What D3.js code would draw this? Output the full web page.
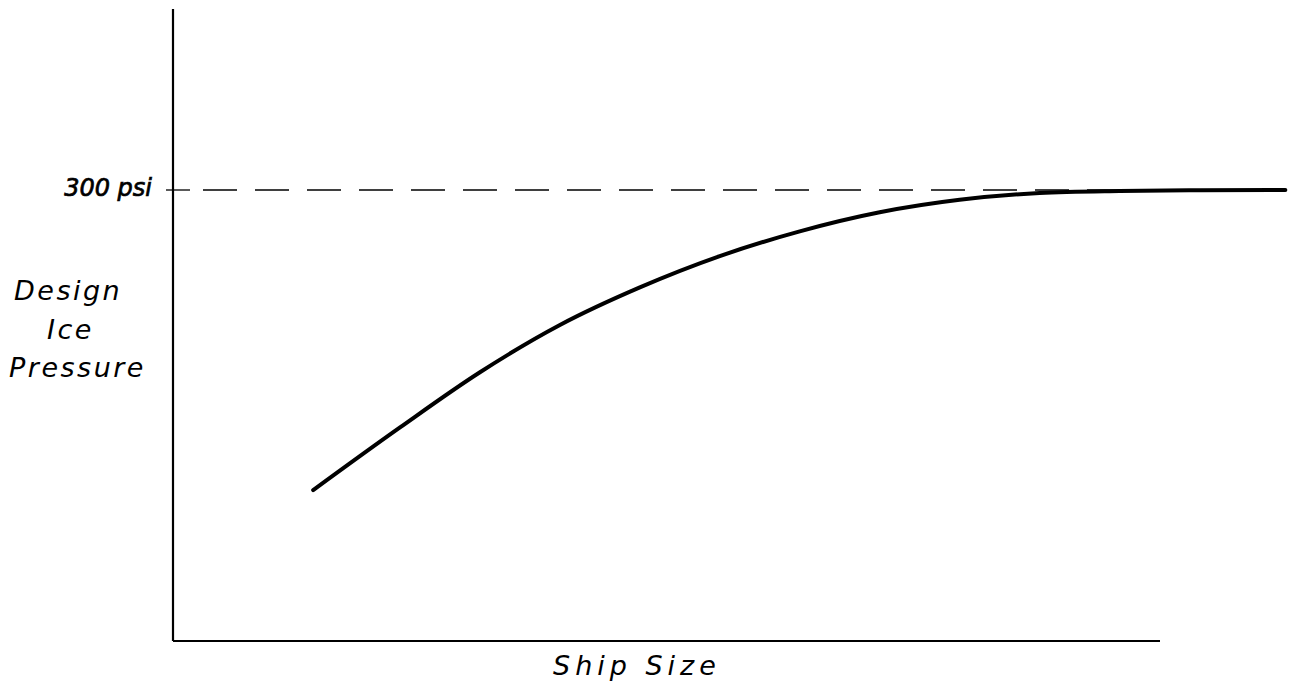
<!DOCTYPE html>
<html>
<head>
<meta charset="utf-8">
<script src="https://cdn.jsdelivr.net/npm/d3@7"></script>
<style>
  html, body { margin: 0; padding: 0; background: #fff; }
  svg { display: block; }
  .lbl { font-family: "DejaVu Sans", sans-serif; font-style: italic; fill: #000; }
</style>
</head>
<body>
<svg id="chart" width="1291" height="689"></svg>
<script>
// Ship size (arbitrary relative units) vs design ice pressure (psi)
const shipSize = [14.2, 23.0, 31.1, 39.2, 47.3, 55.4, 63.5, 71.6, 79.7, 87.8, 95.9, 104.1, 112.7];
const pressure = [100.4, 142.1, 178.8, 210.2, 235.2, 256.0, 272.5, 285.2, 293.5, 298.0, 299.3, 299.8, 300];
const refValue = 300;
const refLabel = "300 psi";
const yLabelLines = ["Design", "Ice", "Pressure"];
const xLabel = "Ship Size";

const svg = d3.select("#chart");
const x = d3.scaleLinear().domain([0, 100]).range([173, 1160]);
const y = d3.scaleLinear().domain([0, 420.4]).range([641, 9]);

// axes
svg.append("line").attr("x1", x(0)).attr("x2", x(0)).attr("y1", y(420.4)).attr("y2", y(0))
  .attr("stroke", "#000").attr("stroke-width", 2.2);
svg.append("line").attr("x1", x(0)).attr("x2", x(100)).attr("y1", y(0)).attr("y2", y(0))
  .attr("stroke", "#000").attr("stroke-width", 1.8);

// reference dashed line at 300 psi
svg.append("line").attr("x1", x(0) - 7).attr("x2", x(0) + 17).attr("y1", y(refValue)).attr("y2", y(refValue))
  .attr("stroke", "#000").attr("stroke-width", 1.3);
svg.append("line").attr("x1", x(0) + 30).attr("x2", 1286).attr("y1", y(refValue)).attr("y2", y(refValue))
  .attr("stroke", "#000").attr("stroke-width", 1.3).attr("stroke-dasharray", "34,18");

// curve
const line = d3.line().x((d, i) => x(shipSize[i])).y(d => y(d)).curve(d3.curveMonotoneX);
svg.append("path").datum(pressure).attr("d", line)
  .attr("fill", "none").attr("stroke", "#000").attr("stroke-width", 4).attr("stroke-linecap", "round");

// labels
svg.append("text").attr("class", "lbl").attr("x", 152).attr("y", 196)
  .attr("text-anchor", "end").attr("font-size", 24)
  .attr("stroke", "#000").attr("stroke-width", 0.7).text(refLabel);

const yl = svg.append("text").attr("class", "lbl").attr("font-size", 27).attr("letter-spacing", 2.5);
yLabelLines.forEach((t, i) => {
  const xs = [14, 47, 9];
  yl.append("tspan").attr("x", xs[i]).attr("y", 300 + i * 38.5).text(t);
});

svg.append("text").attr("class", "lbl").attr("x", 553).attr("y", 675)
  .attr("font-size", 27).attr("letter-spacing", 5).text(xLabel);
</script>
</body>
</html>
